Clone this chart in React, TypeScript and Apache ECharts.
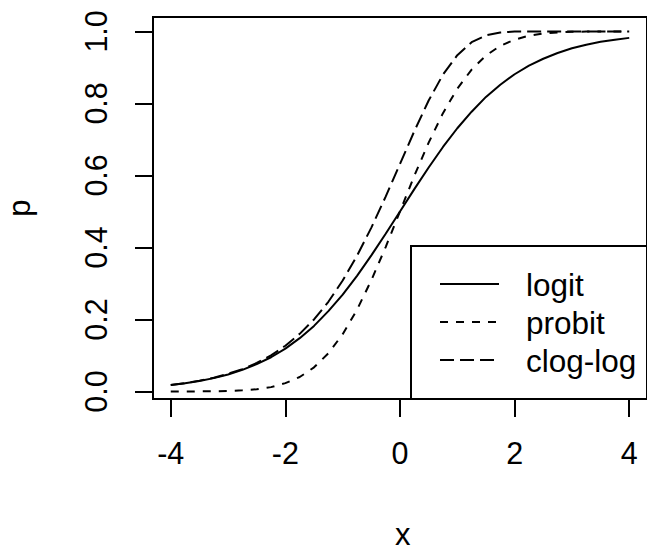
import React, { useEffect, useRef } from "react";
import * as echarts from "echarts";

const xs = [
  -4, -3.75, -3.5, -3.25, -3, -2.75, -2.5, -2.25, -2, -1.75, -1.5, -1.25, -1, -0.75, -0.5, -0.25,
  0, 0.25, 0.5, 0.75, 1, 1.25, 1.5, 1.75, 2, 2.25, 2.5, 2.75, 3, 3.25, 3.5, 3.75, 4,
];
const logitP = [
  0.018, 0.023, 0.029, 0.037, 0.047, 0.06, 0.076, 0.095, 0.119, 0.148, 0.182, 0.223, 0.269, 0.321, 0.378, 0.438,
  0.5, 0.562, 0.622, 0.679, 0.731, 0.777, 0.818, 0.852, 0.881, 0.905, 0.924, 0.94, 0.953, 0.963, 0.971, 0.977, 0.982,
];
const probitP = [
  0.0, 0.0001, 0.0002, 0.0006, 0.0013, 0.003, 0.006, 0.012, 0.023, 0.04, 0.067, 0.106, 0.159, 0.227, 0.309, 0.401,
  0.5, 0.599, 0.691, 0.773, 0.841, 0.894, 0.933, 0.96, 0.977, 0.988, 0.994, 0.997, 0.999, 0.9994, 0.9998, 0.9999, 1.0,
];
const cloglogP = [
  0.018, 0.023, 0.03, 0.038, 0.049, 0.062, 0.079, 0.1, 0.127, 0.16, 0.2, 0.249, 0.308, 0.377, 0.455, 0.541,
  0.632, 0.723, 0.808, 0.88, 0.934, 0.97, 0.989, 0.997, 0.9994, 0.9999, 1.0, 1.0, 1.0, 1.0, 1.0, 1.0, 1.0,
];
const xTicks = [-4, -2, 0, 2, 4];
const yTicks = [0, 0.2, 0.4, 0.6, 0.8, 1.0];
const legendNames = ["logit", "probit", "clog-log"];

const FONT = "'Liberation Sans', Arial, sans-serif";
const dashes: any[] = ["solid", [8, 8], [14, 6]];

export default function App() {
  const ref = useRef<HTMLDivElement>(null);
  useEffect(() => {
    if (!ref.current) return;
    const chart = echarts.init(ref.current, null, { renderer: "svg" });
    const seriesData = [logitP, probitP, cloglogP];
    const legendY = [284, 322, 360];
    const graphics: any[] = [
      {
        type: "rect",
        shape: { x: 411, y: 246, width: 300, height: 153 },
        style: { fill: "none", stroke: "#000", lineWidth: 2 },
        z: 10,
      },
      {
        type: "text",
        x: 402.7,
        y: 534,
        style: { text: "x", fontSize: 31, fontFamily: FONT, fill: "#000", align: "center", verticalAlign: "middle" },
      },
      {
        type: "text",
        x: 19,
        y: 208,
        rotation: Math.PI / 2,
        style: { text: "p", fontSize: 31, fontFamily: FONT, fill: "#000", align: "center", verticalAlign: "middle" },
      },
    ];
    legendNames.forEach((name, i) => {
      graphics.push({
        type: "line",
        shape: { x1: 440, y1: legendY[i], x2: 499, y2: legendY[i] },
        style: { stroke: "#000", lineWidth: 2, lineDash: dashes[i] === "solid" ? null : dashes[i] },
        z: 10,
      });
      graphics.push({
        type: "text",
        x: 526,
        y: legendY[i] + 1,
        style: { text: name, fontSize: 31.5, fontFamily: FONT, fill: "#000", align: "left", verticalAlign: "middle" },
        z: 10,
      });
    });

    chart.setOption({
      animation: false,
      backgroundColor: "#fff",
      grid: {
        left: 153,
        top: 17,
        width: 498,
        height: 382,
        show: true,
        borderColor: "#000",
        borderWidth: 2,
        backgroundColor: "transparent",
      },
      xAxis: {
        type: "value",
        min: -4.31,
        max: 4.31,
        axisLine: { show: false, onZero: false },
        splitLine: { show: false },
        axisTick: { show: true, customValues: xTicks, length: 18, lineStyle: { color: "#000", width: 2 } },
        axisLabel: {
          customValues: xTicks,
          margin: 38,
          fontSize: 30.5,
          fontFamily: FONT,
          color: "#000",
          formatter: (v: number) => String(v),
        },
      },
      yAxis: {
        type: "value",
        min: -0.021,
        max: 1.04,
        axisLine: { show: false, onZero: false },
        splitLine: { show: false },
        axisTick: { show: true, customValues: yTicks, length: 18, lineStyle: { color: "#000", width: 2 } },
        axisLabel: {
          customValues: yTicks,
          rotate: 90,
          margin: 42,
          fontSize: 30.5,
          fontFamily: FONT,
          color: "#000",
          formatter: (v: number) => v.toFixed(1),
        },
      },
      series: legendNames.map((name, i) => ({
        name,
        type: "line",
        showSymbol: false,
        smooth: false,
        data: xs.map((x, j) => [x, seriesData[i][j]]),
        lineStyle: { color: "#000", width: 2, type: dashes[i] },
      })),
      graphic: graphics,
    });
    return () => chart.dispose();
  }, []);
  return <div ref={ref} style={{ position: "absolute", left: 0, top: 0, width: 647, height: 557 }} />;
}
